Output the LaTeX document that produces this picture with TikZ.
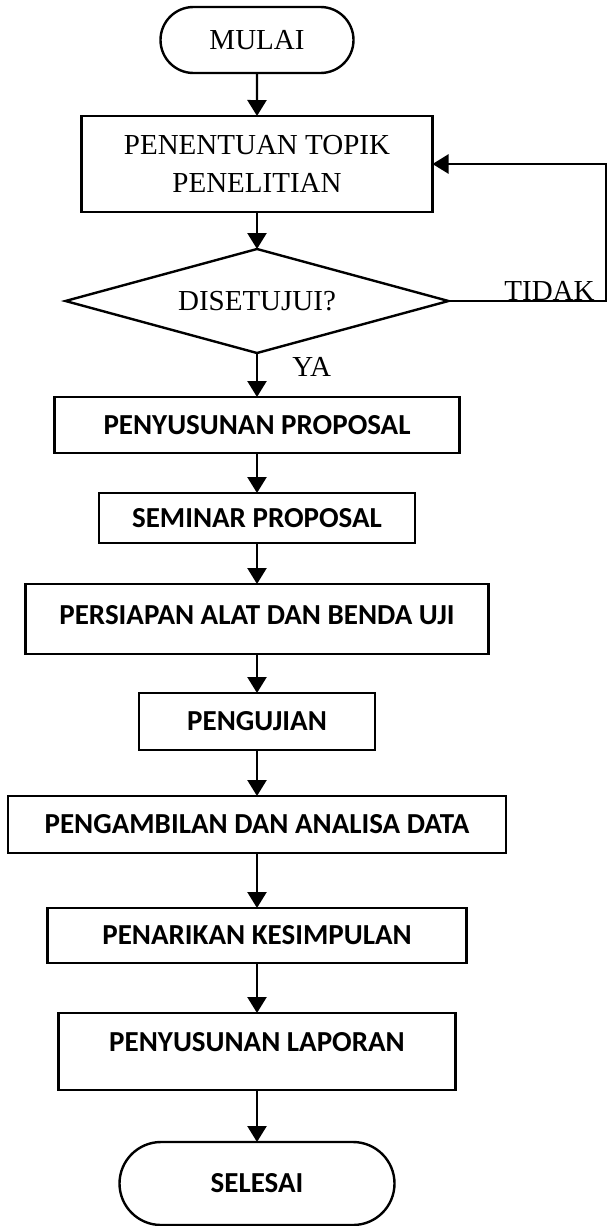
\documentclass[tikz,border=0pt]{standalone}
\usepackage{fontspec}
\setmainfont{Liberation Serif}
\newfontfamily\kalibri{Carlito}
\usetikzlibrary{shapes.geometric,shapes.misc,arrows.meta,positioning}

\begin{document}
\begin{tikzpicture}[
      node distance=20pt,
      garis/.style={line width=1.2pt},
      ujung/.style={draw, garis, rounded rectangle, inner sep=0pt, outer sep=0pt},
      kotak/.style={draw, garis, rectangle, inner sep=0pt, outer sep=0pt, align=center, font=\kalibri\bfseries\fontsize{14.5}{17}\selectfont},
      pilih/.style={draw, garis, diamond, aspect=3.7, inner sep=0pt, outer sep=0pt, font=\fontsize{14.5}{19}\selectfont},
      teks/.style={inner sep=0pt, font=\fontsize{14.5}{19}\selectfont},
      panah/.style={garis, -{Triangle[length=8pt, width=9.5pt]}}
    ]
    \useasboundingbox (0,0) rectangle (304.5pt,-613pt);
    \coordinate (kanan) at (303pt,0);

    \node[ujung, minimum width=96.5pt, minimum height=33pt, font=\fontsize{14.5}{19}\selectfont] (mulai) at (128.5pt,-20pt) {MULAI};
    \node[kotak, minimum width=175.5pt, minimum height=48pt, font=\fontsize{14.5}{19}\selectfont, below=21.5pt of mulai] (topik) {PENENTUAN TOPIK\\PENELITIAN};
    \node[pilih, minimum width=191.5pt, minimum height=52pt, below=18.5pt of topik] (cek) {DISETUJUI?};
    \node[kotak, minimum width=202.5pt, minimum height=28pt, below=22pt of cek] (proposal) {PENYUSUNAN PROPOSAL};
    \node[kotak, minimum width=158pt, minimum height=25pt, below=20pt of proposal] (seminar) {SEMINAR PROPOSAL};
    \node[kotak, minimum width=231.5pt, minimum height=35pt, text depth=4pt, below=20.5pt of seminar] (persiapan) {PERSIAPAN ALAT DAN BENDA UJI};
    \node[kotak, minimum width=118pt, minimum height=28.5pt, below=19.5pt of persiapan] (uji) {PENGUJIAN};
    \node[kotak, minimum width=249pt, minimum height=28.5pt, below=23pt of uji] (analisa) {PENGAMBILAN DAN ANALISA DATA};
    \node[kotak, minimum width=209.5pt, minimum height=27.5pt, below=27.5pt of analisa] (simpul) {PENARIKAN KESIMPULAN};
    \node[kotak, minimum width=198.5pt, minimum height=38.5pt, text depth=9.5pt, below=25pt of simpul] (laporan) {PENYUSUNAN LAPORAN};
    \node[ujung, minimum width=137.5pt, minimum height=41.5pt, font=\kalibri\bfseries\fontsize{14.5}{17}\selectfont, below=26pt of laporan] (selesai) {SELESAI};

    \draw[panah] (mulai) -- (topik);
    \draw[panah] (topik) -- (cek);
    \draw[panah] (cek) -- (proposal);
    \draw[panah] (proposal) -- (seminar);
    \draw[panah] (seminar) -- (persiapan);
    \draw[panah] (persiapan) -- (uji);
    \draw[panah] (uji) -- (analisa);
    \draw[panah] (analisa) -- (simpul);
    \draw[panah] (simpul) -- (laporan);
    \draw[panah] (laporan) -- (selesai);
    \draw[panah] (cek.east) -- (cek.east -| kanan) |- (topik.east);

    \node[teks, anchor=base east] (tidak) at ([xshift=-5.5pt, yshift=0.5pt]cek.east -| kanan) {TIDAK};
    \node[teks, anchor=north west] (ya) at ([xshift=17.5pt, yshift=-2pt]cek.south) {YA};
  \end{tikzpicture}
\end{document}
